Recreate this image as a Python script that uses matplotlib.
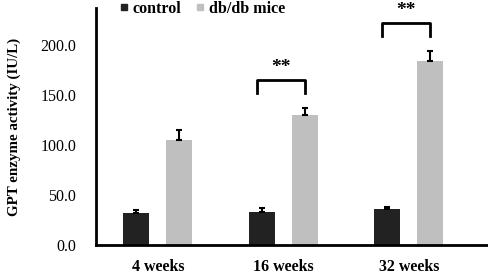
import numpy as np
import matplotlib
matplotlib.use("Agg")
import matplotlib.pyplot as plt
from matplotlib.lines import Line2D

# ── Data ──────────────────────────────────────────────────────────────────────
groups = ["4 weeks", "16 weeks", "32 weeks"]
control_mean = [32, 33, 36]
control_err = [3, 4, 2]
dbdb_mean = [105, 130, 184]
dbdb_err = [10, 7, 10]
sig_groups = [1, 2]           # groups with "**"
sig_labels = ["**", "**"]
yticks = [0, 50, 100, 150, 200]

plt.rcParams.update({
    "font.family": ["Liberation Serif", "DejaVu Serif"],
    "font.size": 11,
})

fig = plt.figure(figsize=(4.89, 2.75), dpi=100)
ax = fig.add_axes([0.196, 0.109, 0.804, 0.862])

x = np.arange(len(groups))
w = 0.207
off = 0.171
c_dark, c_grey = "#222222", "#bfbfbf"

ek = dict(ecolor="black", elinewidth=1.5, capsize=2.5, capthick=1.5)
ax.bar(x - off, control_mean, w, color=c_dark,
       yerr=[np.zeros(len(x)), control_err], error_kw=ek, zorder=2)
ax.bar(x + off, dbdb_mean, w, color=c_grey,
       yerr=[np.zeros(len(x)), dbdb_err], error_kw=ek, zorder=2)

# significance brackets
for g, lab in zip(sig_groups, sig_labels):
    top = dbdb_mean[g] + dbdb_err[g]
    y1 = top + 28
    y0 = y1 - 13
    ax.plot([g - off - 0.04, g - off - 0.04, g + off, g + off],
            [y0, y1, y1, y0], color="black", lw=2, clip_on=False)
    ax.text(g - 0.02, y1 + 4, lab, ha="center", va="bottom",
            fontsize=14, fontweight="bold", clip_on=False)

ax.set_xlim(-0.494, 2.64)
ax.set_ylim(0, 237)
ax.set_xticks(x)
ax.set_xticklabels(groups, fontweight="bold", fontsize=11.5)
ax.set_yticks(yticks)
ax.set_yticklabels([f"{v:.1f}" for v in yticks], fontsize=11.5)
ax.tick_params(axis="x", length=0, pad=10)
ax.tick_params(axis="y", length=0, pad=14)
for s in ["top", "right"]:
    ax.spines[s].set_visible(False)
for s in ["left", "bottom"]:
    ax.spines[s].set_linewidth(2)
ax.set_ylabel("GPT enzyme activity (IU/L)", fontweight="bold", fontsize=10.8,
              labelpad=14)

handles = [Line2D([], [], marker="s", ls="", color=c_dark, markersize=5),
           Line2D([], [], marker="s", ls="", color=c_grey, markersize=5)]
fig.legend(handles, ["control", "db/db mice"], loc="center left",
           bbox_to_anchor=(0.207, 0.968), ncol=2, frameon=False,
           handletextpad=0.05, columnspacing=0.7, handlelength=1.0,
           prop={"weight": "bold", "size": 11.5})

fig.savefig("out.png", dpi=100)
